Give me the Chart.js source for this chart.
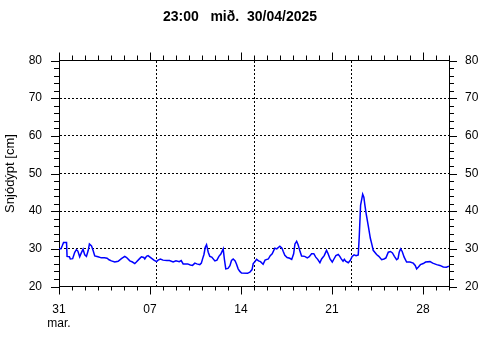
<!DOCTYPE html>
<html>
<head>
<meta charset="utf-8">
<script src="https://cdn.jsdelivr.net/npm/chart.js@4/dist/chart.umd.min.js"></script>
<style>
  body { margin: 0; background: #fff; }
  canvas { display: block; }
</style>
</head>
<body>
<canvas id="snowChart" width="480" height="360"></canvas>
<script>
const chartTitle = "23:00   mið.  30/04/2025";
const yTitle = "Snjódýpt [cm]";

// days after 31 mar 00:00
const dayOffsets = [
  0.00, 0.15, 0.25, 0.35, 0.58, 0.62, 0.80, 0.87, 1.05, 1.21, 1.34, 1.45, 1.59, 1.70, 1.85, 1.98,
  2.11, 2.25, 2.34, 2.50, 2.63, 2.75, 3.00, 3.26, 3.50, 3.70, 3.85, 4.03, 4.29, 4.55, 4.80, 5.06,
  5.20, 5.45, 5.65, 5.83, 5.95, 6.20, 6.34, 6.52, 6.60, 6.73, 6.85, 7.00, 7.15, 7.30, 7.50, 7.62,
  7.80, 8.00, 8.30, 8.50, 8.78, 9.00, 9.25, 9.40, 9.55, 9.90, 10.10, 10.27, 10.45, 10.60, 10.83, 10.95,
  11.05, 11.15, 11.25, 11.35, 11.48, 11.60, 11.75, 11.99, 12.15, 12.30, 12.45, 12.63, 12.72, 12.83, 13.00, 13.15,
  13.27, 13.40, 13.55, 13.65, 13.78, 13.91, 14.04, 14.50, 14.68, 14.85, 14.94, 15.05, 15.20, 15.35, 15.50, 15.70,
  15.85, 16.10, 16.25, 16.40, 16.60, 16.75, 16.99, 17.15, 17.25, 17.37, 17.55, 17.75, 17.90, 18.05, 18.15, 18.28,
  18.40, 18.55, 18.66, 18.90, 19.10, 19.25, 19.43, 19.60, 19.75, 19.90, 20.07, 20.20, 20.40, 20.58, 20.70, 20.85,
  21.02, 21.15, 21.30, 21.48, 21.60, 21.70, 21.85, 21.95, 22.05, 22.25, 22.40, 22.55, 22.70, 22.85, 23.02, 23.10,
  23.20, 23.30, 23.36, 23.45, 23.53, 23.62, 23.79, 23.95, 24.08, 24.17, 24.43, 24.60, 24.82, 25.00, 25.15, 25.33,
  25.50, 25.65, 25.80, 25.97, 26.08, 26.17, 26.28, 26.40, 26.55, 26.74, 27.00, 27.25, 27.40, 27.51, 27.65, 27.80,
  28.02, 28.20, 28.54, 28.75, 29.05, 29.30, 29.56, 29.80, 30.00
];
const snowDepth = [
  30.0, 30.0, 30.8, 31.7, 31.7, 28.0, 27.9, 27.3, 27.4, 29.1, 29.8, 29.4, 27.9, 28.8, 29.9, 28.4,
  28.0, 29.6, 31.3, 30.8, 29.5, 28.1, 27.9, 27.6, 27.6, 27.5, 27.1, 26.8, 26.5, 26.7, 27.4, 28.0,
  27.7, 26.8, 26.5, 26.1, 26.5, 27.4, 27.9, 27.7, 27.3, 28.0, 28.2, 27.8, 27.4, 27.0, 26.6, 27.0,
  27.3, 27.0, 26.9, 26.9, 26.5, 26.8, 26.6, 26.9, 26.0, 26.0, 25.7, 25.6, 26.2, 26.0, 25.8, 26.2,
  27.4, 28.5, 30.4, 31.1, 29.1, 28.0, 27.8, 26.8, 27.0, 28.0, 28.6, 30.0, 27.3, 24.7, 24.8, 25.5,
  26.9, 27.3, 26.8, 26.0, 24.7, 24.0, 23.6, 23.5, 23.8, 24.5, 26.1, 26.5, 27.2, 26.8, 26.6, 25.9,
  27.0, 27.3, 28.2, 28.7, 30.2, 30.0, 30.7, 30.2, 29.3, 28.3, 27.7, 27.5, 27.2, 28.7, 31.3, 32.0,
  31.0, 29.2, 28.1, 28.0, 27.6, 27.9, 28.7, 28.7, 27.8, 27.2, 26.3, 27.3, 28.2, 29.6, 28.7, 27.3,
  26.5, 27.3, 28.2, 28.5, 28.0, 27.4, 26.7, 27.2, 26.7, 26.3, 26.9, 28.0, 28.4, 28.2, 28.4, 33.5,
  41.6, 43.4, 44.5, 43.7, 41.6, 39.5, 36.1, 32.8, 31.0, 29.6, 28.5, 28.0, 27.1, 27.3, 27.6, 29.1,
  29.3, 28.9, 28.0, 27.1, 27.4, 29.1, 30.0, 29.3, 27.8, 26.5, 26.5, 26.2, 25.6, 24.7, 25.2, 25.8,
  26.1, 26.5, 26.6, 26.2, 25.8, 25.6, 25.2, 25.1, 25.4
];

const xTickValues = [0, 7, 14, 21, 28];
const xTickLabels = [["31", "mar."], "07", "14", "21", "28"];
const vGridDays = [7.5, 15, 22.5];

// minor/major tick marks on all four sides of the frame
const tickMarks = {
  id: "tickMarks",
  afterDraw(chart) {
    const { ctx, chartArea: a, scales: { x, y } } = chart;
    ctx.save();
    ctx.strokeStyle = "#000";
    ctx.lineWidth = 1;
    ctx.beginPath();
    for (let d = 0; d <= 30; d++) {
      const px = Math.round(x.getPixelForValue(d)) + 0.5;
      const major = d % 7 === 0;
      ctx.moveTo(px, a.bottom);
      ctx.lineTo(px, a.bottom + (major ? 8 : 4));
      ctx.moveTo(px, a.top);
      ctx.lineTo(px, a.top - (major ? 8 : 5));
    }
    for (let v = 20; v <= 80; v += 2) {
      const py = Math.round(y.getPixelForValue(v)) + 0.5;
      const major = v % 10 === 0;
      ctx.moveTo(a.left, py);
      ctx.lineTo(a.left - (major ? 8 : 5), py);
      ctx.moveTo(a.right, py);
      ctx.lineTo(a.right + (major ? 8 : 5), py);
    }
    ctx.stroke();
    ctx.restore();
  }
};

const tickFont = { family: "'Liberation Sans', Arial, sans-serif", size: 12, lineHeight: 1.17 };

new Chart(document.getElementById("snowChart"), {
  type: "line",
  data: {
    datasets: [{
      data: dayOffsets.map((d, i) => ({ x: d, y: snowDepth[i] })),
      borderColor: "#0000ff",
      borderWidth: 1.5,
      pointRadius: 0,
      tension: 0,
      xAxisID: "x",
      yAxisID: "y"
    }]
  },
  options: {
    responsive: false,
    animation: false,
    devicePixelRatio: 1,
    layout: { padding: 0 },
    plugins: {
      legend: { display: false },
      tooltip: { enabled: false },
      title: {
        display: true,
        text: chartTitle,
        color: "#000",
        font: { family: "'Liberation Sans', Arial, sans-serif", size: 14, weight: "bold", lineHeight: 1.2 },
        padding: { top: 9, bottom: 0 }
      }
    },
    scales: {
      x: {
        type: "linear",
        position: "bottom",
        min: 0,
        max: 30,
        afterBuildTicks: s => { s.ticks = xTickValues.map(v => ({ value: v })); },
        afterFit: s => { s.height = 73.5; },
        ticks: {
          color: "#000",
          font: tickFont,
          padding: 16,
          maxRotation: 0,
          autoSkip: false,
          callback: v => xTickLabels[xTickValues.indexOf(v)]
        },
        grid: { display: false, drawTicks: false },
        border: { display: true, color: "#000", width: 1 }
      },
      x2: {
        type: "linear",
        position: "top",
        min: 0,
        max: 30,
        afterBuildTicks: s => { s.ticks = vGridDays.map(v => ({ value: v })); },
        afterFit: s => { s.height = 34.7; },
        ticks: { display: false },
        grid: { display: true, color: "#000", lineWidth: 1, drawTicks: false },
        border: { display: true, color: "#000", width: 1, dash: [2, 2] }
      },
      y: {
        position: "left",
        min: 20,
        max: 80,
        afterFit: s => { s.width = 59; },
        ticks: { stepSize: 10, color: "#000", font: tickFont, padding: 17 },
        grid: { display: true, color: "#000", lineWidth: 1, drawTicks: false },
        border: { display: true, color: "#000", width: 1, dash: [2, 2] },
        title: {
          display: true,
          text: yTitle,
          color: "#000",
          font: { family: "'Liberation Sans', Arial, sans-serif", size: 13, lineHeight: 1.2 },
          padding: { top: 3, bottom: 0 }
        }
      },
      y2: {
        position: "right",
        min: 20,
        max: 80,
        afterFit: s => { s.width = 31; },
        ticks: { stepSize: 10, color: "#000", font: tickFont, padding: 16 },
        grid: { display: false, drawTicks: false },
        border: { display: true, color: "#000", width: 1 }
      }
    }
  },
  plugins: [tickMarks]
});
</script>
</body>
</html>
